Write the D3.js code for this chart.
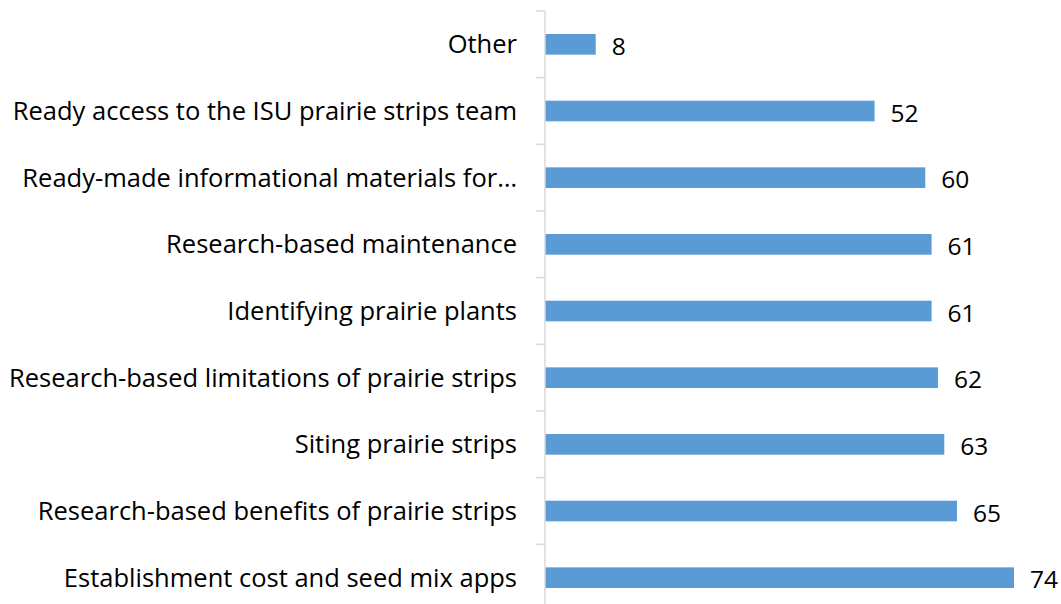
<!DOCTYPE html>
<html>
<head>
<meta charset="utf-8">
<script src="https://cdn.jsdelivr.net/npm/d3@7"></script>
<style>
  body { margin: 0; background: #fff; }
  svg { display: block; }
  text { font-family: "Open Sans", "Noto Sans", sans-serif; fill: #000; }
</style>
</head>
<body>
<script>
var categories = [
  "Other",
  "Ready access to the ISU prairie strips team",
  "Ready-made informational materials for\u2026",
  "Research-based maintenance",
  "Identifying prairie plants",
  "Research-based limitations of prairie strips",
  "Siting prairie strips",
  "Research-based benefits of prairie strips",
  "Establishment cost and seed mix apps"
];
var values = [8, 52, 60, 61, 61, 62, 63, 65, 74];

var width = 1061, height = 604;
var axisX = 545, plotTop = 11, band = 66.67;

var svg = d3.select("body").append("svg")
  .attr("width", width)
  .attr("height", height);

var x = d3.scaleLinear().domain([0, 74]).range([axisX, 1014]);
var y = d3.scaleBand().domain(categories)
  .range([plotTop, plotTop + band * categories.length])
  .paddingInner(0.69).paddingOuter(0.345);

// bars
svg.selectAll("rect.bar").data(values).enter().append("rect")
  .attr("class", "bar")
  .attr("x", x(0))
  .attr("y", function(d, i){ return y(categories[i]); })
  .attr("width", function(d){ return x(d) - x(0); })
  .attr("height", y.bandwidth())
  .attr("fill", "#5b9bd5");

// axis line and ticks
var ticks = d3.range(categories.length + 1).map(function(i){ return plotTop + i * band; });
svg.append("line")
  .attr("x1", axisX).attr("x2", axisX)
  .attr("y1", plotTop).attr("y2", height)
  .attr("stroke", "#d9d9d9").attr("stroke-width", 1.5);
svg.selectAll("line.tick").data(ticks).enter().append("line")
  .attr("class", "tick")
  .attr("x1", axisX - 9).attr("x2", axisX)
  .attr("y1", function(d){ return d; }).attr("y2", function(d){ return d; })
  .attr("stroke", "#d9d9d9").attr("stroke-width", 1.5);

// category labels
svg.selectAll("text.cat").data(categories).enter().append("text")
  .attr("class", "cat")
  .attr("x", axisX - 28)
  .attr("y", function(d){ return y(d) + y.bandwidth() / 2; })
  .attr("dy", "0.35em")
  .attr("text-anchor", "end")
  .attr("font-size", 25.5)
  .text(function(d){ return d; });

// value labels
svg.selectAll("text.val").data(values).enter().append("text")
  .attr("class", "val")
  .attr("x", function(d){ return x(d) + 16; })
  .attr("y", function(d, i){ return y(categories[i]) + y.bandwidth() / 2 + 2; })
  .attr("dy", "0.35em")
  .attr("font-size", 24.5)
  .text(function(d){ return d; });
</script>
</body>
</html>
